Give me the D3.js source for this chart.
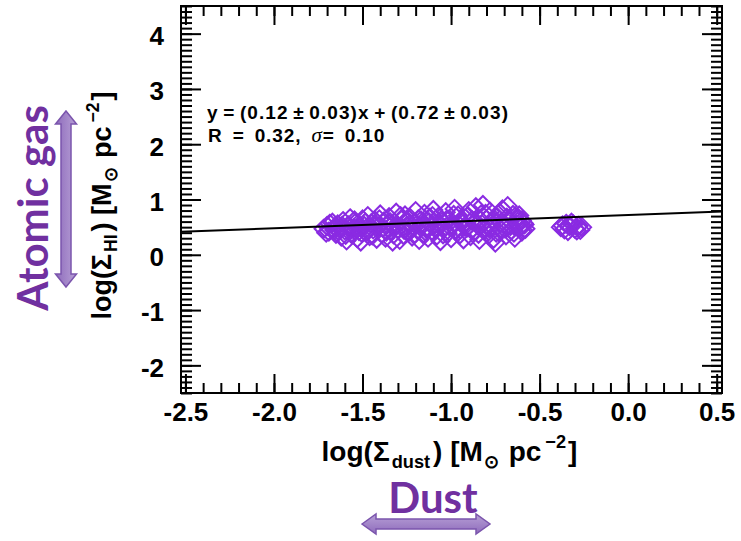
<!DOCTYPE html>
<html>
<head>
<meta charset="utf-8">
<script src="https://cdn.jsdelivr.net/npm/d3@7"></script>
<style>
  html, body { margin: 0; padding: 0; background: #fff; }
  svg { display: block; }
</style>
</head>
<body>
<div id="chart"></div>
<script>
/* log(Σ_HI) vs log(Σ_dust), IDL-style scatter with linear fit */

// values
const dustX = [
  -1.72, -1.70, -1.69, -1.67, -1.66, -1.65, -1.64, -1.63, -1.62,
  -1.61, -1.60, -1.59, -1.58, -1.57, -1.56, -1.55, -1.54, -1.53, -1.52,
  -1.51, -1.50, -1.49, -1.48, -1.47, -1.46, -1.45, -1.44, -1.43, -1.42,
  -1.41, -1.40, -1.39, -1.38, -1.37, -1.36, -1.35, -1.34, -1.33, -1.32,
  -1.31, -1.30, -1.29, -1.28, -1.27, -1.26, -1.25, -1.24, -1.23, -1.22,
  -1.21, -1.20, -1.19, -1.18, -1.17, -1.16, -1.15, -1.14, -1.13, -1.12,
  -1.11, -1.10, -1.09, -1.08, -1.07, -1.06, -1.05, -1.04, -1.03, -1.02,
  -1.01, -1.00, -0.99, -0.98, -0.97, -0.96, -0.95, -0.94, -0.93, -0.92,
  -0.91, -0.90, -0.89, -0.88, -0.87, -0.86, -0.85, -0.84, -0.83, -0.82,
  -0.81, -0.80, -0.79, -0.78, -0.77, -0.76, -0.75, -0.74, -0.73, -0.72,
  -0.71, -0.70, -0.69, -0.68, -0.67, -0.66, -0.65, -0.64, -0.63, -0.62,
  -0.61, -0.60, -0.59, -0.58, -0.60,
  -1.705, -1.685, -1.655, -1.635, -1.615, -1.595, -1.575, -1.545, -1.525, -1.505,
  -1.485, -1.465, -1.445, -1.425, -1.405, -1.385, -1.365, -1.345, -1.325, -1.305,
  -1.285, -1.265, -1.245, -1.225, -1.205, -1.185, -1.165, -1.145, -1.125, -1.105,
  -1.085, -1.065, -1.045, -1.025, -1.005, -0.985, -0.965, -0.945, -0.925, -0.905,
  -0.885, -0.865, -0.845, -0.825, -0.805, -0.785, -0.765, -0.745, -0.725, -0.705,
  -0.685, -0.665, -0.645, -0.625, -0.605, -0.595, -0.585, -0.615,
  -0.38, -0.37, -0.36, -0.35, -0.34, -0.33, -0.32, -0.31, -0.30, -0.29,
  -0.28, -0.27, -0.26
];
const hiY = [
  0.47, 0.52, 0.42, 0.58, 0.45, 0.38, 0.55, 0.49, 0.33,
  0.61, 0.44, 0.26, 0.53, 0.66, 0.37, 0.48, 0.58, 0.30, 0.43,
  0.24, 0.64, 0.52, 0.40, 0.70, 0.34, 0.57, 0.46, 0.62, 0.29,
  0.51, 0.73, 0.39, 0.60, 0.31, 0.55, 0.68, 0.44, 0.24, 0.58,
  0.76, 0.47, 0.27, 0.63, 0.36, 0.71, 0.52, 0.41, 0.66, 0.33,
  0.57, 0.79, 0.45, 0.27, 0.62, 0.38, 0.74, 0.50, 0.31, 0.67,
  0.43, 0.81, 0.56, 0.35, 0.69, 0.25, 0.60, 0.48, 0.77, 0.39,
  0.64, 0.30, 0.53, 0.83, 0.45, 0.71, 0.37, 0.58, 0.28, 0.66,
  0.49, 0.79, 0.34, 0.62, 0.42, 0.86, 0.55, 0.27, 0.73, 0.90,
  0.46, 0.64, 0.36, 0.78, 0.52, 0.29, 0.22, 0.68, 0.41, 0.58,
  0.82, 0.48, 0.35, 0.88, 0.62, 0.44, 0.72, 0.31, 0.55, 0.66,
  0.50, 0.42, 0.57, 0.47, 0.62,
  0.40, 0.56, 0.50, 0.43, 0.52, 0.36, 0.47, 0.62, 0.51, 0.40,
  0.58, 0.47, 0.35, 0.54, 0.64, 0.49, 0.42, 0.59, 0.37, 0.54,
  0.70, 0.45, 0.60, 0.50, 0.38, 0.64, 0.53, 0.42, 0.59, 0.70,
  0.46, 0.54, 0.37, 0.63, 0.50, 0.72, 0.40, 0.62, 0.51, 0.70,
  0.45, 0.60, 0.38, 0.55, 0.74, 0.48, 0.63, 0.40, 0.76, 0.55,
  0.67, 0.52, 0.40, 0.60, 0.53, 0.45, 0.55, 0.71,
  0.50, 0.53, 0.46, 0.56, 0.43, 0.52, 0.58, 0.55, 0.47, 0.44,
  0.52, 0.45, 0.50
];

const xTickValues = [-2.5, -2.0, -1.5, -1.0, -0.5, 0.0, 0.5];
const yTickValues = [-2, -1, 0, 1, 2, 3, 4];

const fitSlope = 0.12;
const fitIntercept = 0.72;
const fitParts = ['y', '=', '(0.12', '±', '0.03)x', '+', '(0.72', '±', '0.03)'];
const statParts = ['R', '=', '0.32,', 'σ=', '0.10'];

(function () {
  const W = 741, H = 541;
  const plot = { left: 181, right: 722, top: 6, bottom: 393 };
  const AXIS_FONT = 'Liberation Sans, Arial, Helvetica, sans-serif';
  const NOTE_FONT = 'Lato, "Open Sans", sans-serif';
  const PURPLE = '#7030a0';
  const POINT = '#8a2be2';

  const svg = d3.select('#chart')
    .append('svg')
    .attr('width', W)
    .attr('height', H)
    .attr('viewBox', `0 0 ${W} ${H}`);

  const x = d3.scaleLinear().domain([-2.525, 0.53]).range([plot.left, plot.right]);
  const y = d3.scaleLinear().domain([-2.5, 4.5]).range([plot.bottom, plot.top]);

  // --- points (open diamonds) ---
  const diamond = r => `M0,${-r}L${r},0L0,${r}L${-r},0Z`;
  const pts = dustX.map((d, i) => ({ x: d, y: hiY[i] }));
  svg.append('g')
    .selectAll('path')
    .data(pts)
    .enter()
    .append('path')
    .attr('transform', d => `translate(${x(d.x)},${y(d.y)})`)
    .attr('d', diamond(9))
    .attr('fill', 'none')
    .attr('stroke', POINT)
    .attr('stroke-width', 2);

  // --- fit line ---
  const fitData = x.domain().map(v => ({ x: v, y: fitSlope * v + fitIntercept }));
  svg.append('path')
    .datum(fitData)
    .attr('fill', 'none')
    .attr('stroke', '#000')
    .attr('stroke-width', 2)
    .attr('d', d3.line().x(d => x(d.x)).y(d => y(d.y)));

  // --- axes: IDL style, ticks pointing in on all four sides ---
  function styleAxis(g) {
    g.select('.domain').remove();
    g.selectAll('.tick line').attr('stroke', '#000').attr('stroke-width', 2);
    g.attr('font-family', AXIS_FONT).attr('font-size', 26).attr('font-weight', 'bold');
    g.selectAll('text').attr('fill', '#000');
  }

  const xMinor = x.ticks(30);
  const yMinor = y.ticks(70);

  [[d3.axisBottom, plot.bottom], [d3.axisTop, plot.top]].forEach(([ax, pos]) => {
    svg.append('g')
      .attr('transform', `translate(0,${pos})`)
      .call(ax(x).tickValues(xMinor).tickSize(-10).tickFormat(''))
      .call(styleAxis);
  });
  [[d3.axisLeft, plot.left], [d3.axisRight, plot.right]].forEach(([ax, pos]) => {
    svg.append('g')
      .attr('transform', `translate(${pos},0)`)
      .call(ax(y).tickValues(yMinor).tickSize(-11).tickFormat(''))
      .call(styleAxis);
  });

  svg.append('g')
    .attr('transform', `translate(0,${plot.bottom})`)
    .call(d3.axisBottom(x).tickValues(xTickValues).tickSize(-19).tickPadding(10)
      .tickFormat(d => d.toFixed(1)))
    .call(styleAxis);
  svg.append('g')
    .attr('transform', `translate(0,${plot.top})`)
    .call(d3.axisTop(x).tickValues(xTickValues).tickSize(-19).tickFormat(''))
    .call(styleAxis);
  svg.append('g')
    .attr('transform', `translate(${plot.left},0)`)
    .call(d3.axisLeft(y).tickValues(yTickValues).tickSize(-20).tickPadding(17)
      .tickFormat(d => String(d)))
    .call(styleAxis)
    .selectAll('text').attr('dy', '0.42em');
  svg.append('g')
    .attr('transform', `translate(${plot.right},0)`)
    .call(d3.axisRight(y).tickValues(yTickValues).tickSize(-20).tickFormat(''))
    .call(styleAxis);

  svg.append('rect')
    .attr('x', plot.left).attr('y', plot.top)
    .attr('width', plot.right - plot.left)
    .attr('height', plot.bottom - plot.top)
    .attr('fill', 'none')
    .attr('stroke', '#000')
    .attr('stroke-width', 2);

  // --- axis titles with sub/superscripts ---
  function richText(sel, parts, size) {
    let shift = 0;
    parts.forEach(p => {
      const target = p.k === 'sub' ? size * 0.24 : p.k === 'sup' ? -size * 0.45 : 0;
      sel.append('tspan')
        .attr('dy', target - shift)
        .attr('dx', p.dx || 0)
        .attr('font-size', p.k ? size * 0.65 : size)
        .text(p.t);
      shift = target;
    });
  }

  const titleParts = sub => [
    { t: 'log(Σ' }, { t: sub, k: 'sub', dx: 2 }, { t: ') [M', dx: 3 }, { t: '⊙', k: 'sub', dx: 1 },
    { t: ' pc', dx: 2 }, { t: '−2', k: 'sup', dx: 4 }, { t: ']', dx: 2 }
  ];

  const xTitle = svg.append('text')
    .attr('x', (plot.left + plot.right) / 2 - 2)
    .attr('y', 461)
    .attr('text-anchor', 'middle')
    .attr('font-family', AXIS_FONT)
    .attr('font-weight', 'bold')
    .style('white-space', 'pre');
  richText(xTitle, titleParts('dust'), 28);

  const yTitle = svg.append('text')
    .attr('transform', `translate(111,${(plot.top + plot.bottom) / 2 + 6})rotate(-90)`)
    .attr('text-anchor', 'middle')
    .attr('font-family', AXIS_FONT)
    .attr('font-weight', 'bold')
    .style('white-space', 'pre');
  richText(yTitle, titleParts('HI'), 27);

  // --- fit annotation ---
  const fitText = svg.append('text')
    .attr('x', 207).attr('y', 119)
    .attr('font-family', AXIS_FONT)
    .attr('font-weight', 'bold')
    .attr('font-size', 19)
    .attr('letter-spacing', 1.1);
  fitParts.forEach((t, i) => {
    const sym = t === '=' || t === '±' || t === '+';
    const prevSym = i > 0 && ['=', '±', '+'].includes(fitParts[i - 1]);
    fitText.append('tspan')
      .attr('dx', sym || prevSym ? 4.5 : 0)
      .text(t);
  });

  const stats = svg.append('text')
    .attr('x', 208).attr('y', 142)
    .attr('font-family', AXIS_FONT)
    .attr('font-weight', 'bold')
    .attr('font-size', 19)
    .attr('letter-spacing', 0.9);
  stats.append('tspan').text(statParts[0]);
  stats.append('tspan').attr('dx', 10).text(statParts[1]);
  stats.append('tspan').attr('dx', 10).text(statParts[2]);
  stats.append('tspan')
    .attr('dx', 10)
    .attr('font-family', 'Liberation Serif, Times New Roman, serif')
    .attr('font-style', 'italic')
    .attr('font-weight', 'normal')
    .attr('font-size', 21)
    .text(statParts[3].charAt(0));
  stats.append('tspan').text(statParts[3].slice(1));
  stats.append('tspan').attr('dx', 10).text(statParts[4]);

  // --- purple slide annotations ---
  const defs = svg.append('defs');
  const grad = defs.append('linearGradient')
    .attr('id', 'arrowFill').attr('x1', 0).attr('y1', 0).attr('x2', 0).attr('y2', 1);
  grad.append('stop').attr('offset', 0).attr('stop-color', '#b7a0d6');
  grad.append('stop').attr('offset', 1).attr('stop-color', '#8e6bbb');
  const gradV = defs.append('linearGradient')
    .attr('id', 'arrowFillV').attr('x1', 0).attr('y1', 0).attr('x2', 1).attr('y2', 0);
  gradV.append('stop').attr('offset', 0).attr('stop-color', '#8e6bbb');
  gradV.append('stop').attr('offset', 1).attr('stop-color', '#b7a0d6');

  function hArrow(x1, x2, cy, hw, hl, sw) {
    return `M${x1},${cy}L${x1 + hl},${cy - hw}L${x1 + hl},${cy - sw}L${x2 - hl},${cy - sw}` +
      `L${x2 - hl},${cy - hw}L${x2},${cy}L${x2 - hl},${cy + hw}L${x2 - hl},${cy + sw}` +
      `L${x1 + hl},${cy + sw}L${x1 + hl},${cy + hw}Z`;
  }
  function vArrow(cx, y1, y2, hw, hl, sw) {
    return `M${cx},${y1}L${cx + hw},${y1 + hl}L${cx + sw},${y1 + hl}L${cx + sw},${y2 - hl}` +
      `L${cx + hw},${y2 - hl}L${cx},${y2}L${cx - hw},${y2 - hl}L${cx - sw},${y2 - hl}` +
      `L${cx - sw},${y1 + hl}L${cx - hw},${y1 + hl}Z`;
  }

  svg.append('path')
    .attr('d', vArrow(66, 111, 287, 10.5, 13, 5))
    .attr('fill', 'url(#arrowFillV)')
    .attr('stroke', '#7b55ad')
    .attr('stroke-width', 1.5);
  svg.append('path')
    .attr('d', hArrow(362, 490, 524, 10, 14, 5))
    .attr('fill', 'url(#arrowFill)')
    .attr('stroke', '#7b55ad')
    .attr('stroke-width', 1.5);

  svg.append('text')
    .attr('transform', 'translate(48,208)rotate(-90)')
    .attr('text-anchor', 'middle')
    .attr('font-family', NOTE_FONT)
    .attr('font-weight', 'bold')
    .attr('font-size', 42)
    .attr('fill', PURPLE)
    .text('Atomic gas');
  svg.append('text')
    .attr('x', 433).attr('y', 513)
    .attr('text-anchor', 'middle')
    .attr('font-family', NOTE_FONT)
    .attr('font-weight', 'bold')
    .attr('font-size', 42)
    .attr('fill', PURPLE)
    .text('Dust');
})();
</script>
</body>
</html>
